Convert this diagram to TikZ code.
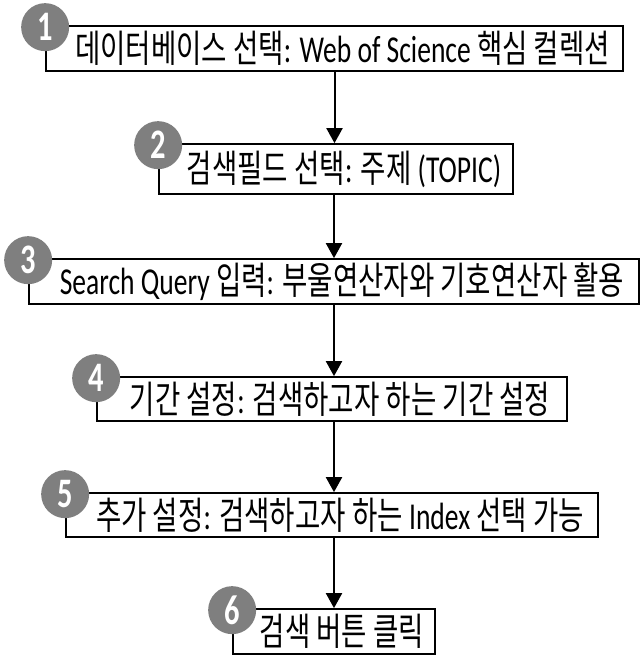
\documentclass[tikz,border=0pt]{standalone}
\usepackage{fontspec}
\setmainfont[FakeStretch=0.725]{Carlito}
\newfontfamily\kr[FakeStretch=0.725]{Noto Sans CJK KR}
\usetikzlibrary{arrows.meta}
\definecolor{badgegray}{HTML}{7F7F7F}

\begin{document}
\begin{tikzpicture}[x=1pt,y=-1pt,
stepbox/.style={rectangle, draw=black, line width=1.7pt, fill=white, inner sep=0pt, font=\fontsize{38}{40}\selectfont, execute at begin node=\hspace*{16pt}},
badge/.style={circle, fill=badgegray, text=white, minimum size=48pt, inner sep=0pt, font=\fontsize{42}{44}\selectfont\bfseries, yshift=-2pt},
flow/.style={-{Triangle[length=15pt,width=16pt]}, line width=2pt},
]
\useasboundingbox (0,0) rectangle (643,667);

\node[stepbox, minimum width=577pt, minimum height=45pt] (s1) at (334.5,48.5) {{\kr 데이터베이스 선택}: Web of Science {\kr 핵심 컬렉션}};
\node[stepbox, minimum width=354pt, minimum height=50pt] (s2) at (336,169)   {{\kr 검색필드 선택}: {\kr 주제} (TOPIC)};
\node[stepbox, minimum width=610pt, minimum height=45pt] (s3) at (334,281.5) {Search Query {\kr 입력}: {\kr 부울연산자와 기호연산자 활용}};
\node[stepbox, minimum width=470pt, minimum height=44pt] (s4) at (332,399)   {{\kr 기간 설정}: {\kr 검색하고자 하는 기간 설정}};
\node[stepbox, minimum width=532pt, minimum height=44pt] (s5) at (332,515)   {{\kr 추가 설정}: {\kr 검색하고자 하는} Index {\kr 선택 가능}};
\node[stepbox, minimum width=202pt, minimum height=45pt] (s6) at (334,631.5) {{\kr 검색 버튼 클릭}};

\node[badge] (b1) at (s1.north west) {1};
\node[badge] (b2) at (s2.north west) {2};
\node[badge] (b3) at (s3.north west) {3};
\node[badge] (b4) at (s4.north west) {4};
\node[badge] (b5) at (s5.north west) {5};
\node[badge] (b6) at (s6.north west) {6};

\draw[flow] (s1.south) -- (s1.south |- s2.north);
\draw[flow] (s2.south -| s3.north) -- (s3.north);
\draw[flow] (s3.south) -- (s3.south |- s4.north);
\draw[flow] (s3.south |- s4.south) -- (s3.south |- s5.north);
\draw[flow] (s6.north |- s5.south) -- (s6.north);
\end{tikzpicture}
\end{document}
